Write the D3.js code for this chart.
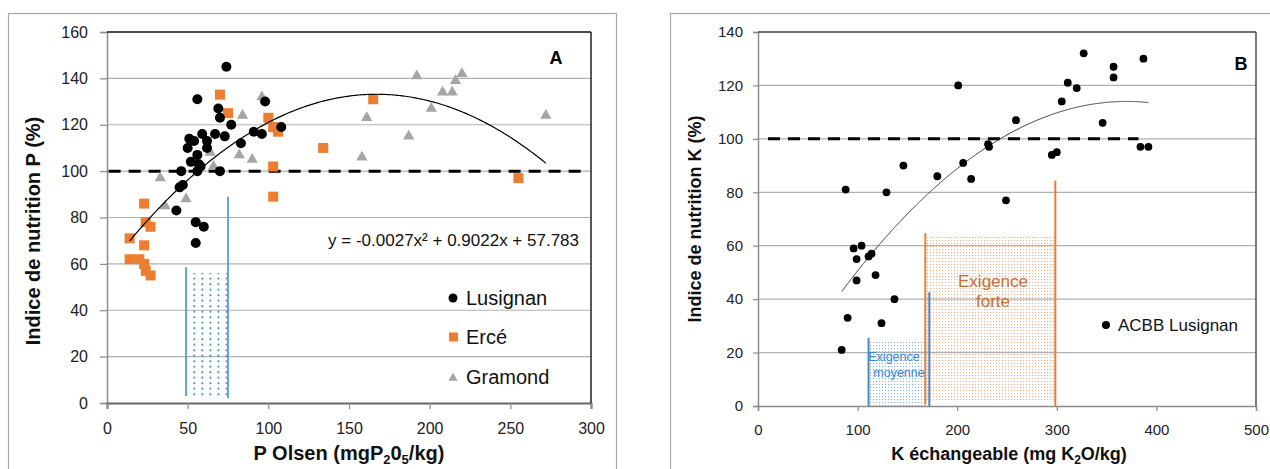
<!DOCTYPE html>
<html><head><meta charset="utf-8">
<script src="https://cdn.jsdelivr.net/npm/d3@7"></script>
<style>
html,body{margin:0;padding:0;background:#fff;}
svg{display:block;font-family:"Liberation Sans",Arial,sans-serif;}
</style></head><body>
<svg id="c" width="1270" height="469"></svg>
<script>
// ---------- DATA ----------
const lusignan = [[74,145],[56,131],[69,127],[70,123],[77,120],[98,130],[108,119],[91,117],[96,116],[83,112],[59,116],[67,116],[73,115],[51,114],[54,113],[62,113],[50,110],[62,110],[56,107],[52,104],[57,103],[58,102],[46,100],[56,100],[70,100],[47,94],[45,93],[43,83],[55,78],[60,76],[55,69]];
const erce = [[14,71],[14,62],[20,62],[23,68],[23,60],[24,57],[27,55],[23,86],[24,78],[27,76],[70,133],[75,125],[100,123],[103,119],[106,117],[103,102],[103,89],[134,110],[165,131],[255,97]];
const gramond = [[33,97],[36,85],[49,88],[55,104],[64,108],[66,102],[84,124],[82,107],[90,105],[96,132],[158,106],[161,123],[187,115],[192,141],[201,127],[208,134],[214,134],[216,139],[220,142],[272,124]];
const acbb = [[84,21],[90,33],[124,31],[137,40],[99,47],[118,49],[99,55],[111,56],[114,57],[96,59],[104,60],[88,81],[129,80],[146,90],[180,86],[201,120],[206,91],[214,85],[231,98],[232,97],[249,77],[259,107],[295,94],[300,95],[305,114],[311,121],[320,119],[327,132],[346,106],[357,127],[357,123],[387,130],[384,97],[392,97]];
const trendA = [-0.0027, 0.9022, 57.783];
const trendARange = [14, 272];
const trendB = [-0.00087, 0.6438, -5.1];
const trendBRange = [84, 392];
const ticksAX = [0,50,100,150,200,250,300];
const ticksAY = [0,20,40,60,80,100,120,140,160];
const ticksBX = [0,100,200,300,400,500];
const ticksBY = [0,20,40,60,80,100,120,140];
const refValue = 100;
const refARange = [1, 298];
const refBRange = [10, 382];
const legendA = ["Lusignan","Ercé","Gramond"];
const legendB = ["ACBB Lusignan"];
const equationA = "y = -0.0027x² + 0.9022x + 57.783";
const zoneALines = [[49,3,58.5],[75,2,89]];
const zoneAFill = [52,74.5,3,56];
const zoneBBlueLines = [[111,0,25.5],[172,0,42.6]];
const zoneBOrangeLines = [[168,0.5,64.7],[298.5,0,84.4]];
const zoneBBlueFill = [111,168,0,24.5];
const zoneBOrangeFill = [168,298,1.5,63.6];

// ---------- SETUP ----------
const svg = d3.select("#c");
const defs = svg.append("defs");
const pA = defs.append("pattern").attr("id","dotsA").attr("patternUnits","userSpaceOnUse")
  .attr("width",8.1).attr("height",5.5).attr("x",193).attr("y",272);
pA.append("circle").attr("cx",1.2).attr("cy",1.2).attr("r",1).attr("fill","#2e75b6");
const pB1 = defs.append("pattern").attr("id","dotsB1").attr("patternUnits","userSpaceOnUse")
  .attr("width",3).attr("height",3);
pB1.append("rect").attr("width",1.1).attr("height",1.1).attr("fill","#5b9bd5").attr("opacity",0.75);
const pB2 = defs.append("pattern").attr("id","dotsB2").attr("patternUnits","userSpaceOnUse")
  .attr("width",3).attr("height",3);
pB2.append("rect").attr("width",1.1).attr("height",1.1).attr("fill","#f4b183");

const blue = "#5b9bd5", orange = "#ed7d31", gray = "#a5a5a5";
const poly = (c, x) => c[0]*x*x + c[1]*x + c[2];

svg.append("rect").attr("x",8.5).attr("y",13.5).attr("width",608).attr("height",480)
  .attr("fill","none").attr("stroke","#a6a6a6").attr("stroke-width",1.2);
svg.append("rect").attr("x",670.5).attr("y",13.5).attr("width",640).attr("height",480)
  .attr("fill","none").attr("stroke","#a6a6a6").attr("stroke-width",1.2);

// ================= PANEL A =================
const xA = d3.scaleLinear().domain([0,300]).range([107,591]);
const yA = d3.scaleLinear().domain([0,160]).range([403,32]);
const gA = svg.append("g");

gA.selectAll("line.grid").data(ticksAY.filter(v=>v>0 && v<160)).join("line")
  .attr("x1",xA(0)).attr("x2",xA(300)).attr("y1",d=>yA(d)).attr("y2",d=>yA(d))
  .attr("stroke","#b0b0b0").attr("stroke-width",1.2);

const axAY = gA.append("g").attr("transform",`translate(${xA(0)},0)`)
  .call(d3.axisLeft(yA).tickValues(ticksAY).tickSize(7).tickPadding(12));
const axAX = gA.append("g").attr("transform",`translate(0,${yA(0)})`)
  .call(d3.axisBottom(xA).tickValues(ticksAX).tickSize(6).tickPadding(14));
[axAY,axAX].forEach(a=>{
  a.select(".domain").attr("stroke","#8c8c8c").attr("stroke-width",1.5);
  a.selectAll(".tick line").attr("stroke","#8c8c8c").attr("stroke-width",1.2);
  a.selectAll("text").attr("font-size",16).attr("fill","#222").attr("font-family","Liberation Sans, Arial, sans-serif");
});
axAX.select(".domain").attr("stroke","#666").attr("stroke-width",2);
gA.append("line").attr("x1",xA(0)).attr("x2",xA(300)).attr("y1",yA(160)).attr("y2",yA(160)).attr("stroke","#111").attr("stroke-width",1.4);
gA.append("line").attr("x1",xA(300)).attr("x2",xA(300)).attr("y1",yA(160)).attr("y2",yA(0)).attr("stroke","#111").attr("stroke-width",1.4);

gA.append("rect").attr("x",xA(zoneAFill[0])).attr("width",xA(zoneAFill[1])-xA(zoneAFill[0]))
  .attr("y",yA(zoneAFill[3])).attr("height",yA(zoneAFill[2])-yA(zoneAFill[3])).attr("fill","url(#dotsA)");
gA.selectAll("line.zone").data(zoneALines).join("line")
  .attr("x1",d=>xA(d[0])).attr("x2",d=>xA(d[0])).attr("y1",d=>yA(d[1])).attr("y2",d=>yA(d[2]))
  .attr("stroke",blue).attr("stroke-width",1.8);

gA.append("line").attr("x1",xA(refARange[0])).attr("x2",xA(refARange[1]))
  .attr("y1",yA(refValue)).attr("y2",yA(refValue))
  .attr("stroke","#000").attr("stroke-width",3).attr("stroke-dasharray","12,8");

gA.selectAll("path.gr").data(gramond).join("path")
  .attr("d",d3.symbol(d3.symbolTriangle,55))
  .attr("transform",d=>`translate(${xA(d[0])},${yA(d[1])})`).attr("fill",gray);
gA.selectAll("rect.er").data(erce).join("rect")
  .attr("x",d=>xA(d[0])-5).attr("y",d=>yA(d[1])-5).attr("width",10).attr("height",10).attr("fill",orange);
gA.selectAll("circle.lu").data(lusignan).join("circle")
  .attr("cx",d=>xA(d[0])).attr("cy",d=>yA(d[1])).attr("r",5).attr("fill","#000");

const line = d3.line();
gA.append("path")
  .datum(d3.range(trendARange[0], trendARange[1]+0.01, 1).map(x=>[xA(x), yA(poly(trendA,x))]))
  .attr("d",line).attr("fill","none").attr("stroke","#000").attr("stroke-width",1.2);

gA.append("text").attr("x",579).attr("y",246).attr("text-anchor","end")
  .attr("font-size",17).attr("fill","#111").text(equationA);
gA.append("text").attr("x",556).attr("y",64).attr("text-anchor","middle")
  .attr("font-size",18).attr("font-weight","bold").text("A");

const legA = gA.append("g");
const legY = [298,337,377];
legA.append("circle").attr("cx",453).attr("cy",legY[0]).attr("r",4.5).attr("fill","#000");
legA.append("rect").attr("x",449).attr("y",legY[1]-4.5).attr("width",9).attr("height",9).attr("fill",orange);
legA.append("path").attr("d",d3.symbol(d3.symbolTriangle,36)).attr("transform",`translate(453,${legY[2]+1})`).attr("fill",gray);
legA.selectAll("text").data(legendA).join("text")
  .attr("x",466).attr("y",(d,i)=>legY[i]+7).attr("font-size",20).attr("fill","#111").text(d=>d);

gA.append("text").attr("transform","translate(40,231) rotate(-90)").attr("text-anchor","middle")
  .attr("font-size",20).attr("font-weight","bold").attr("fill","#111").text("Indice de nutrition P (%)");
const tA = gA.append("text").attr("x",349).attr("y",460).attr("text-anchor","middle")
  .attr("font-size",20).attr("font-weight","bold").attr("fill","#111");
tA.append("tspan").text("P Olsen (mgP");
tA.append("tspan").attr("font-size",13).attr("dy",3.5).text("2");
tA.append("tspan").attr("dy",-3.5).text("0");
tA.append("tspan").attr("font-size",13).attr("dy",3.5).text("5");
tA.append("tspan").attr("dy",-3.5).text("/kg)");

// ================= PANEL B =================
const xB = d3.scaleLinear().domain([0,500]).range([758,1256]);
const yB = d3.scaleLinear().domain([0,140]).range([406,32]);
const gB = svg.append("g");

gB.selectAll("line.grid").data(ticksBY.filter(v=>v>0 && v<140)).join("line")
  .attr("x1",xB(0)).attr("x2",xB(500)).attr("y1",d=>yB(d)).attr("y2",d=>yB(d))
  .attr("stroke","#b0b0b0").attr("stroke-width",1.2);

const axBY = gB.append("g").attr("transform",`translate(${xB(0)},0)`)
  .call(d3.axisLeft(yB).tickValues(ticksBY).tickSize(5).tickPadding(10));
const axBX = gB.append("g").attr("transform",`translate(0,${yB(0)})`)
  .call(d3.axisBottom(xB).tickValues(ticksBX).tickSize(5).tickPadding(13));
[axBY,axBX].forEach(a=>{
  a.select(".domain").attr("stroke","#8c8c8c").attr("stroke-width",1.5);
  a.selectAll(".tick line").attr("stroke","#8c8c8c").attr("stroke-width",1.2);
  a.selectAll("text").attr("font-size",15).attr("fill","#222").attr("font-family","Liberation Sans, Arial, sans-serif");
});
gB.append("line").attr("x1",xB(0)).attr("x2",xB(500)).attr("y1",yB(140)).attr("y2",yB(140)).attr("stroke","#444").attr("stroke-width",1.4);
gB.append("line").attr("x1",xB(500)).attr("x2",xB(500)).attr("y1",yB(140)).attr("y2",yB(0)).attr("stroke","#444").attr("stroke-width",1.4);

gB.append("rect").attr("x",xB(zoneBBlueFill[0])).attr("width",xB(zoneBBlueFill[1])-xB(zoneBBlueFill[0]))
  .attr("y",yB(zoneBBlueFill[3])).attr("height",yB(zoneBBlueFill[2])-yB(zoneBBlueFill[3])).attr("fill","url(#dotsB1)");
gB.append("rect").attr("x",xB(zoneBOrangeFill[0])).attr("width",xB(zoneBOrangeFill[1])-xB(zoneBOrangeFill[0]))
  .attr("y",yB(zoneBOrangeFill[3])).attr("height",yB(zoneBOrangeFill[2])-yB(zoneBOrangeFill[3])).attr("fill","url(#dotsB2)");
gB.selectAll("line.ol").data(zoneBOrangeLines).join("line")
  .attr("x1",d=>xB(d[0])).attr("x2",d=>xB(d[0])).attr("y1",d=>yB(d[1])).attr("y2",d=>yB(d[2]))
  .attr("stroke",orange).attr("stroke-width",2);
gB.selectAll("line.bl").data(zoneBBlueLines).join("line")
  .attr("x1",d=>xB(d[0])).attr("x2",d=>xB(d[0])).attr("y1",d=>yB(d[1])).attr("y2",d=>yB(d[2]))
  .attr("stroke","#4a86c5").attr("stroke-width",2);
gB.append("text").attr("x",894).attr("y",361).attr("text-anchor","middle").attr("font-size",12.5).attr("fill","#3a87d0").text("Exigence");
gB.append("text").attr("x",899).attr("y",377).attr("text-anchor","middle").attr("font-size",12.5).attr("fill","#3a87d0").text("moyenne");
gB.append("text").attr("x",993).attr("y",287).attr("text-anchor","middle").attr("font-size",17).attr("fill","#c0713a").text("Exigence");
gB.append("text").attr("x",993).attr("y",307).attr("text-anchor","middle").attr("font-size",17).attr("fill","#c0713a").text("forte");

gB.append("line").attr("x1",xB(refBRange[0])).attr("x2",xB(refBRange[1]))
  .attr("y1",yB(refValue)).attr("y2",yB(refValue))
  .attr("stroke","#000").attr("stroke-width",3).attr("stroke-dasharray","12,8");

gB.append("path")
  .datum(d3.range(trendBRange[0], trendBRange[1]+0.01, 1).map(x=>[xB(x), yB(poly(trendB,x))]))
  .attr("d",line).attr("fill","none").attr("stroke","#404040").attr("stroke-width",1);

gB.selectAll("circle.ac").data(acbb).join("circle")
  .attr("cx",d=>xB(d[0])).attr("cy",d=>yB(d[1])).attr("r",3.9).attr("fill","#000");

gB.append("text").attr("x",1241).attr("y",70).attr("text-anchor","middle")
  .attr("font-size",18).attr("font-weight","bold").text("B");

gB.append("circle").attr("cx",1106).attr("cy",325).attr("r",4).attr("fill","#000");
gB.append("text").attr("x",1118).attr("y",331).attr("font-size",17).attr("fill","#111").text(legendB[0]);

gB.append("text").attr("transform","translate(701,219) rotate(-90)").attr("text-anchor","middle")
  .attr("font-size",18).attr("font-weight","bold").attr("fill","#111").text("Indice de nutrition K (%)");
const tB = gB.append("text").attr("x",1009).attr("y",460).attr("text-anchor","middle")
  .attr("font-size",18).attr("font-weight","bold").attr("fill","#111");
tB.append("tspan").text("K échangeable (mg K");
tB.append("tspan").attr("font-size",12).attr("dy",3.5).text("2");
tB.append("tspan").attr("dy",-3.5).text("O/kg)");
</script>
</body></html>
